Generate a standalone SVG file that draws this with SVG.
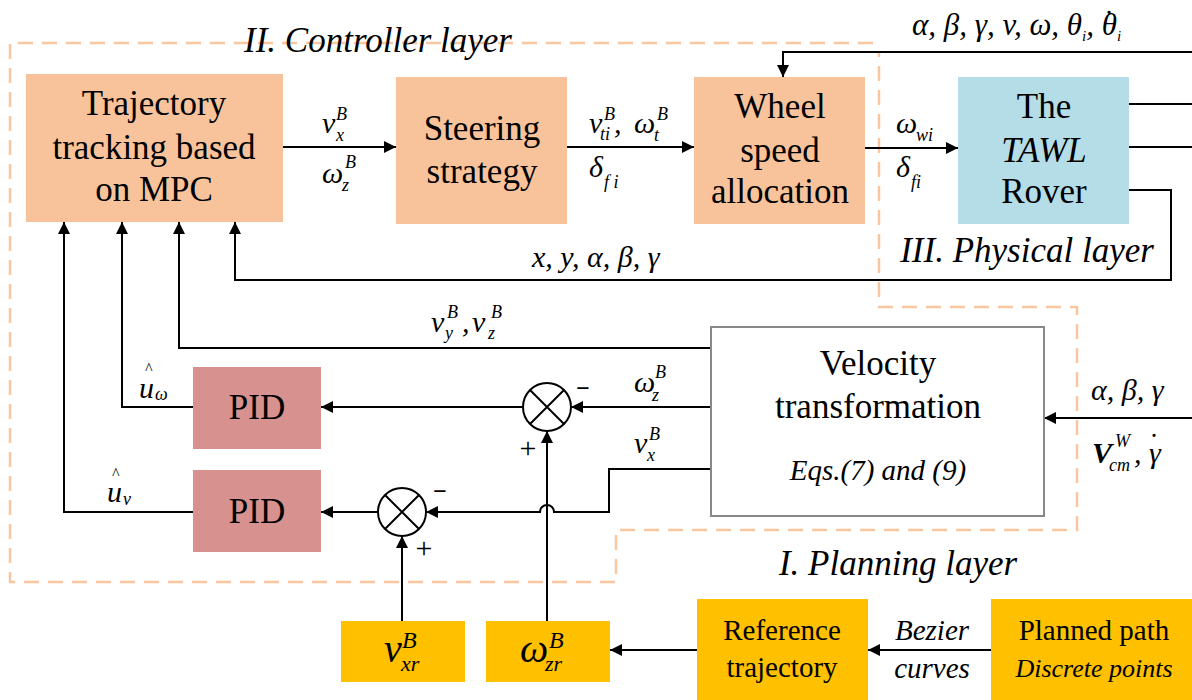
<svg xmlns="http://www.w3.org/2000/svg" width="1192" height="700" viewBox="0 0 1192 700">
<style>
text{fill:#000}
.t{font-size:35px;text-anchor:middle}
.it{font-style:italic}
.m{font-style:italic;font-size:30px}
.s{font-style:italic;font-size:18px}
.sg{font-size:24px;text-anchor:middle}
.pl{font-size:30px;text-anchor:middle}
.ln{fill:none;stroke:#000;stroke-width:2}
.arr{marker-end:url(#ah)}
.dash{fill:none;stroke:#F9C6A0;stroke-width:2.5;stroke-dasharray:15 9}
.peach{fill:#F8C39B}
.yel{fill:#FFC000}
.pid{fill:#D7928F}
</style>
<defs>
<marker id="ah" viewBox="0 0 12 12" refX="12" refY="6" markerWidth="12" markerHeight="12" markerUnits="userSpaceOnUse" orient="auto">
<path d="M0,0 L12,6 L0,12 z" fill="#000"/>
</marker>
</defs>
<g font-family="Liberation Serif, serif">

<g id="layers">
<path class="dash" d="M873,43 H10 V582 H616 V530 H1077 V307 H879 V52"/>
<text class="it" x="378" y="52" style="font-size:35px;text-anchor:middle">II. Controller layer</text>
<text class="it" x="1027" y="262" style="font-size:35px;text-anchor:middle">III. Physical layer</text>
<text class="it" x="898" y="575" style="font-size:35px;text-anchor:middle">I. Planning layer</text>
</g>

<g id="connectors">
<path class="ln arr" d="M283,147 H396"/>
<path class="ln arr" d="M567,147 H694"/>
<path class="ln arr" d="M865,148 H958"/>
<path class="ln arr" d="M1192,52 H783 V77"/>
<path class="ln" d="M1129,104 H1192"/>
<path class="ln" d="M1129,147 H1192"/>
<path class="ln arr" d="M1129,190 H1171 V280 H235 V222"/>
<path class="ln arr" d="M711,348 H179 V222"/>
<path class="ln arr" d="M193,407 H122 V222"/>
<path class="ln arr" d="M193,512 H64 V222"/>
<path class="ln arr" d="M711,407 H571"/>
<path class="ln arr" d="M523,407 H321"/>
<path class="ln arr" d="M547,621 V431"/>
<path class="ln arr" d="M711,469 H609 V512 H554 A7,7 0 0 0 540,512 H426"/>
<path class="ln arr" d="M378,512 H321"/>
<path class="ln arr" d="M402,621 V536"/>
<path class="ln arr" d="M1192,418 H1044"/>
<path class="ln arr" d="M697,650 H610"/>
<path class="ln arr" d="M991,650 H868"/>
</g>

<g id="labels">
<text class="m" x="322" y="133">v</text><text class="s" x="336" y="120">B</text><text class="s" x="336" y="141">x</text>
<text class="m" x="322" y="183">ω</text><text class="s" x="345" y="168">B</text><text class="s" x="342" y="191">z</text>
<text class="m" x="589" y="133">v</text><text class="s" x="604" y="120">B</text><text class="s" x="600" y="140">ti</text>
<text class="m" x="614" y="133">,</text>
<text class="m" x="634" y="133">ω</text><text class="s" x="657" y="120">B</text><text class="s" x="654" y="141">t</text>
<text class="m" x="589" y="177">δ</text><text class="s" x="604" y="188">f i</text>
<text class="m" x="896" y="133">ω</text><text class="s" x="916" y="141">wi</text>
<text class="m" x="896" y="177">δ</text><text class="s" x="911" y="188">fi</text>
<text class="m" x="912" y="35" style="font-size:31px">α, β, γ, v, ω, θ<tspan style="font-size:15px" dy="6">i</tspan><tspan dy="-6">, θ</tspan><tspan style="font-size:15px" dy="6">i</tspan></text>
<text x="1109" y="31" style="font-size:30px;text-anchor:middle">˙</text>
<text class="m" x="532" y="267">x, y, α, β, γ</text>
<text class="m" x="431" y="332">v</text><text class="s" x="447" y="318">B</text><text class="s" x="445" y="339">y</text>
<text class="m" x="462" y="332">,</text>
<text class="m" x="472" y="332">v</text><text class="s" x="491" y="318">B</text><text class="s" x="488" y="339">z</text>
<text class="it" x="148" y="374" style="font-size:16px;text-anchor:middle">^</text>
<text class="m" x="139" y="398">u</text><text class="s" x="155" y="400">ω</text>
<text class="it" x="115" y="479" style="font-size:16px;text-anchor:middle">^</text>
<text class="m" x="107" y="502">u</text><text class="s" x="123" y="505">v</text>
<text class="m" x="634" y="392">ω</text><text class="s" x="655" y="378">B</text><text class="s" x="652" y="401">z</text>
<text class="m" x="634" y="453">v</text><text class="s" x="649" y="440">B</text><text class="s" x="647" y="461">x</text>
<text class="sg" x="583" y="396" style="font-weight:bold">−</text>
<text class="pl" x="528" y="458">+</text>
<text class="sg" x="440" y="499" style="font-weight:bold">−</text>
<text class="pl" x="424" y="558">+</text>
<text class="m" x="1091" y="400">α, β, γ</text>
<text class="m" x="1092" y="463" style="font-weight:bold">V</text><text class="s" x="1115" y="447">W</text><text class="s" x="1109" y="471">cm</text>
<text class="m" x="1134" y="463">, γ</text>
<text x="1154" y="454" style="font-size:30px;text-anchor:middle">˙</text>
<text class="it" x="932" y="640" style="font-size:29px;text-anchor:middle">Bezier</text>
<text class="it" x="932" y="678" style="font-size:29px;text-anchor:middle">curves</text>
</g>

<g id="sum1">
<circle cx="547" cy="407" r="24" fill="#fff" stroke="#000" stroke-width="2"/>
<path class="ln" d="M530,390 L564,424 M564,390 L530,424"/>
</g>
<g id="sum2">
<circle cx="402" cy="512" r="24" fill="#fff" stroke="#000" stroke-width="2"/>
<path class="ln" d="M385,495 L419,529 M419,495 L385,529"/>
</g>

<g id="mpc">
<rect class="peach" x="26" y="74" width="257" height="148"/>
<text class="t" x="154" y="115">Trajectory</text>
<text class="t" x="154" y="159">tracking based</text>
<text class="t" x="154" y="201">on MPC</text>
</g>
<g id="steering">
<rect class="peach" x="396" y="77" width="171" height="147"/>
<text class="t" x="482" y="140">Steering</text>
<text class="t" x="482" y="183">strategy</text>
</g>
<g id="wheel">
<rect class="peach" x="694" y="77" width="171" height="147"/>
<text class="t" x="780" y="118">Wheel</text>
<text class="t" x="780" y="162">speed</text>
<text class="t" x="780" y="203">allocation</text>
</g>
<g id="rover">
<rect x="958" y="77" width="171" height="147" fill="#B4DDE7"/>
<text class="t" x="1044" y="118">The</text>
<text class="t it" x="1044" y="162">TAWL</text>
<text class="t" x="1044" y="203">Rover</text>
</g>
<g id="velocity">
<rect x="711" y="327" width="333" height="189" fill="#fff" stroke="#888" stroke-width="2"/>
<text class="t" x="878" y="375">Velocity</text>
<text class="t" x="878" y="418">transformation</text>
<text class="it" x="878" y="480" style="font-size:29px;text-anchor:middle">Eqs.(7) and (9)</text>
</g>
<g id="pid1">
<rect class="pid" x="193" y="367" width="128" height="82"/>
<text class="t" x="257" y="419">PID</text>
</g>
<g id="pid2">
<rect class="pid" x="193" y="470" width="128" height="82"/>
<text class="t" x="257" y="523">PID</text>
</g>
<g id="vxr">
<rect class="yel" x="341" y="621" width="124" height="61"/>
<text class="it" x="384" y="662" style="font-size:40px">v</text>
<text class="it" x="402" y="648" style="font-size:24px">B</text>
<text class="it" x="401" y="671" style="font-size:22px">xr</text>
</g>
<g id="wzr">
<rect class="yel" x="486" y="621" width="124" height="61"/>
<text class="it" x="520" y="662" style="font-size:40px">ω</text>
<text class="it" x="549" y="648" style="font-size:24px">B</text>
<text class="it" x="545" y="671" style="font-size:22px">zr</text>
</g>
<g id="reftraj">
<rect class="yel" x="697" y="599" width="171" height="101"/>
<text x="782" y="640" style="font-size:29px;text-anchor:middle">Reference</text>
<text x="782" y="677" style="font-size:29px;text-anchor:middle">trajectory</text>
</g>
<g id="planned">
<rect class="yel" x="991" y="599" width="201" height="101"/>
<text x="1094" y="640" style="font-size:29px;text-anchor:middle">Planned path</text>
<text class="it" x="1094" y="677" style="font-size:26px;text-anchor:middle">Discrete points</text>
</g>
</g>
</svg>
